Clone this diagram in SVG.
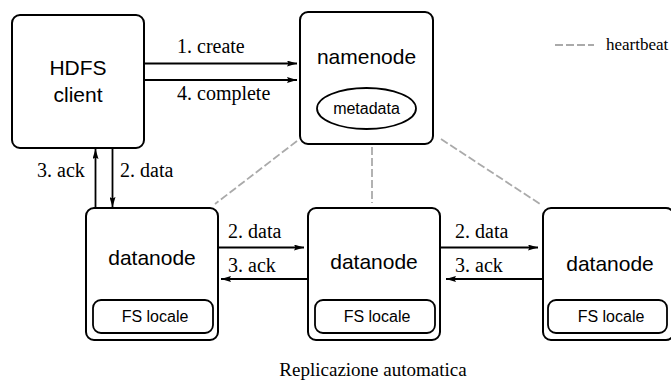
<svg xmlns="http://www.w3.org/2000/svg" width="671" height="380" viewBox="0 0 671 380">
  <style>
    .box { fill: #fff; stroke: #000; stroke-width: 2; }
    .inner { fill: none; stroke: #000; stroke-width: 1.8; }
    .sans { font-family: "Liberation Sans", Arial, sans-serif; fill: #000; text-anchor: middle; }
    .big { font-size: 21px; }
    .small { font-size: 16px; }
    .serif { font-family: "Liberation Serif", "Times New Roman", serif; font-size: 20px; fill: #000; }
    .arrow { stroke: #000; stroke-width: 1.8; fill: none; marker-end: url(#head); }
    .hb { stroke: #aaa; stroke-width: 1.8; stroke-dasharray: 8 3; fill: none; }
  </style>
  <defs>
    <marker id="head" viewBox="0 0 10 6" refX="10" refY="3" markerWidth="10" markerHeight="6" markerUnits="userSpaceOnUse" orient="auto">
      <path d="M0,0 L10,3 L0,6 L1.5,3 z" fill="#000"/>
    </marker>
  </defs>

  <rect width="671" height="380" fill="#fff"/>

  <!-- heartbeat links and client/datanode messages -->
  <g id="connectors">
    <line class="hb" x1="297" y1="141" x2="215" y2="204"/>
    <line class="hb" x1="372" y1="147" x2="372" y2="203"/>
    <line class="hb" x1="441" y1="139" x2="540" y2="204"/>

    <line class="arrow" x1="145" y1="63.5" x2="297" y2="63.5"/>
    <line class="arrow" x1="145" y1="80" x2="297" y2="80"/>
    <line class="arrow" x1="95.5" y1="208" x2="95.5" y2="149"/>
    <line class="arrow" x1="112.5" y1="149" x2="112.5" y2="207"/>
    <line class="arrow" x1="219" y1="247.5" x2="304" y2="247.5"/>
    <line class="arrow" x1="308" y1="279" x2="221" y2="279"/>
    <line class="arrow" x1="441" y1="247.5" x2="538" y2="247.5"/>
    <line class="arrow" x1="543" y1="279" x2="446" y2="279"/>

    <text class="serif" x="177" y="53">1. create</text>
    <text class="serif" x="177" y="100">4. complete</text>
    <text class="serif" x="37" y="177">3. ack</text>
    <text class="serif" x="120" y="177">2. data</text>
    <text class="serif" x="228" y="238">2. data</text>
    <text class="serif" x="228" y="272">3. ack</text>
    <text class="serif" x="455" y="238">2. data</text>
    <text class="serif" x="455" y="272">3. ack</text>
  </g>

  <g id="client">
    <rect class="box" x="12" y="15" width="132" height="133" rx="8"/>
    <text class="sans big" x="78" y="75">HDFS</text>
    <text class="sans big" x="78" y="102">client</text>
  </g>

  <g id="namenode">
    <rect class="box" x="300" y="12" width="133" height="132" rx="8"/>
    <text class="sans big" x="366.5" y="64">namenode</text>
    <ellipse cx="366.5" cy="108.5" rx="49.5" ry="20.5" fill="none" stroke="#000" stroke-width="1.8"/>
    <text class="sans small" x="366.5" y="113.5">metadata</text>
  </g>

  <g id="datanode1">
    <rect class="box" x="86" y="208" width="132" height="132" rx="8"/>
    <text class="sans big" x="152" y="265">datanode</text>
    <rect class="inner" x="93" y="300" width="120" height="33" rx="8"/>
    <text class="sans small" x="155" y="322">FS locale</text>
  </g>

  <g id="datanode2">
    <rect class="box" x="308" y="208" width="132" height="132" rx="8"/>
    <text class="sans big" x="374" y="269">datanode</text>
    <rect class="inner" x="315" y="300" width="120" height="33" rx="8"/>
    <text class="sans small" x="377" y="322">FS locale</text>
  </g>

  <g id="datanode3">
    <rect class="box" x="543" y="208" width="131" height="132" rx="8"/>
    <text class="sans big" x="610" y="271">datanode</text>
    <rect class="inner" x="548" y="300" width="119" height="33" rx="8"/>
    <text class="sans small" x="611" y="322">FS locale</text>
  </g>

  <g id="legend">
    <line class="hb" x1="555" y1="45" x2="594" y2="45" stroke-dasharray="7 3"/>
    <text class="serif" x="606" y="50" style="font-size:17px">heartbeat</text>
  </g>

  <text class="serif" x="373" y="376" text-anchor="middle" style="font-size:19px">Replicazione automatica</text>
</svg>
